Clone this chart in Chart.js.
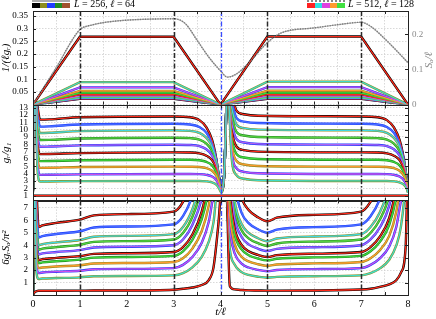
<!DOCTYPE html>
<html>
<head>
<meta charset="utf-8">
<script src="https://cdn.jsdelivr.net/npm/chart.js@4.4.1/dist/chart.umd.min.js"></script>
<style>
  body { margin: 0; background: #fff; }
  #wrap { position: relative; width: 436px; height: 319px; overflow: hidden; font-family: 'Liberation Serif', 'DejaVu Serif', serif; }
  #wrap canvas { position: absolute; left: 0; }
  .bar { position: absolute; top: 3px; height: 5px; display: flex; }
  .bar span { flex: 1; }
  .gline { position: absolute; top: 0; height: 2px; }
  .ltext { position: absolute; top: -2px; font-size: 10px; line-height: 12px; white-space: nowrap; }
</style>
</head>
<body>
<div id="wrap">
  <canvas id="cTop" width="436" height="112" style="top:0"></canvas>
  <canvas id="cMid" width="436" height="107" style="top:99px"></canvas>
  <canvas id="cBot" width="436" height="125" style="top:194px"></canvas>

  <div class="gline" style="left:32px;width:38px;background:#aaa"></div>
  <div class="bar" style="left:32px;width:38px">
    <span style="background:#000"></span><span style="background:#8c8c1e"></span><span style="background:#1f3cff"></span><span style="background:#1e8c1e"></span><span style="background:#a0522d"></span>
  </div>
  <div class="ltext" style="left:74px"><i>L</i> = 256, <i>ℓ</i> = 64</div>

  <div class="gline" style="left:307px;width:38px;border-top:2px dotted #888;height:0"></div>
  <div class="bar" style="left:307px;width:38px">
    <span style="background:#ff2020"></span><span style="background:#30e0e0"></span><span style="background:#e040e0"></span><span style="background:#ff9a30"></span><span style="background:#40e040"></span>
  </div>
  <div class="ltext" style="left:348px"><i>L</i> = 512, <i>ℓ</i> = 128</div>
</div>
<script>
// ---- axes / ticks ----
const xGrid = [0, 0.5, 1, 1.5, 2, 2.5, 3, 3.5, 4, 4.5, 5, 5.5, 6, 6.5, 7, 7.5, 8];
const topTicks = [0, 0.05, 0.1, 0.15, 0.2, 0.25, 0.3, 0.35];
const sATicks = [0, 0.1, 0.2];
const midTicks = [1, 2, 3, 4, 5, 6, 7, 8, 9, 10, 11, 12, 13];
const botTicks = [0, 1, 2, 3, 4, 5, 6, 7];
const markTimes = [1, 3, 5, 7];
const centerTime = 4;

// ---- top panel: 1/(l g_r) ----
const tTop = [0, 1, 3, 4, 5, 7, 8];
const invG1 = [0, 0.268, 0.268, 0, 0.269, 0.269, 0];
const invG2 = [0, 0.089, 0.089, 0, 0.091, 0.091, 0];
const invG3 = [0, 0.068, 0.068, 0, 0.069, 0.069, 0];
const invG4 = [0, 0.054, 0.054, 0, 0.055, 0.055, 0];
const invG5 = [0, 0.046, 0.046, 0, 0.046, 0.046, 0];
const invG6 = [0, 0.039, 0.039, 0, 0.039, 0.039, 0];
const invG7 = [0, 0.034, 0.034, 0, 0.034, 0.034, 0];
const invG8 = [0, 0.030, 0.030, 0, 0.030, 0.030, 0];
const invG9 = [0, 0.027, 0.027, 0, 0.027, 0.027, 0];
const invG10 = [0, 0.025, 0.025, 0, 0.025, 0.025, 0];
const invG11 = [0, 0.023, 0.023, 0, 0.023, 0.023, 0];

// entanglement entropy S_A / l (right axis)
const tS = [0, 0.5, 1, 1.25, 1.5, 2, 2.5, 3, 3.25, 3.5, 3.75, 4, 4.15, 4.33, 4.57, 5, 5.3, 6, 6.5, 7, 7.25, 7.45, 7.73, 8];
const sA = [0, 0.106, 0.213, 0.226, 0.233, 0.24, 0.243, 0.244, 0.23, 0.183, 0.135, 0.096, 0.078, 0.086, 0.114, 0.176, 0.204, 0.218, 0.227, 0.234, 0.218, 0.194, 0.157, 0.119];

// ---- middle panel: g_r / g_1 ----
const tFlat = [0, 8];
const ratio1 = [1, 1];
const tMid = [0, 0.04, 0.1, 0.15, 0.35, 1, 3, 3.35, 3.55, 3.7, 3.82, 3.91, 3.97, 4.02, 4.08, 4.15, 4.24, 4.34, 4.5, 4.8, 7, 7.35, 7.55, 7.7, 7.82, 7.91, 7.97, 8];
const ratio2 = [1.4, 16, 4.2, 2.92, 2.93, 2.98, 3.0, 3.0, 3.0, 2.95, 2.8, 2.5, 2.0, 1.4, 4, 16, 6.0, 3.8, 3.3, 3.1, 3.0, 3.0, 3.0, 2.95, 2.8, 2.5, 2.0, 1.4];
const ratio3 = [1.53, 16, 5.15, 3.83, 3.84, 3.9, 3.95, 3.95, 3.93, 3.83, 3.6, 3.12, 2.39, 1.53, 4, 16, 6.95, 4.75, 4.25, 4.05, 3.95, 3.95, 3.93, 3.83, 3.6, 3.12, 2.39, 1.53];
const ratio4 = [1.67, 16, 6.15, 4.79, 4.8, 4.9, 4.95, 4.94, 4.91, 4.75, 4.4, 3.73, 2.74, 1.67, 4, 16, 7.95, 5.75, 5.25, 5.05, 4.95, 4.94, 4.91, 4.75, 4.4, 3.73, 2.74, 1.67];
const ratio5 = [1.74, 16, 7.1, 5.7, 5.72, 5.82, 5.9, 5.89, 5.82, 5.59, 5.12, 4.23, 3.01, 1.74, 4, 16, 8.9, 6.7, 6.2, 6.0, 5.9, 5.89, 5.82, 5.59, 5.12, 4.23, 3.01, 1.74];
const ratio6 = [1.83, 16, 8.1, 6.66, 6.68, 6.8, 6.9, 6.88, 6.77, 6.45, 5.84, 4.72, 3.24, 1.83, 4, 16, 9.9, 7.7, 7.2, 7.0, 6.9, 6.88, 6.77, 6.45, 5.84, 4.72, 3.24, 1.83];
const ratio7 = [1.83, 16, 9.15, 7.67, 7.7, 7.85, 7.95, 7.91, 7.76, 7.32, 6.49, 5.1, 3.36, 1.83, 4, 16, 10.95, 8.75, 8.25, 8.05, 7.95, 7.91, 7.76, 7.32, 6.49, 5.1, 3.36, 1.83];
const ratio8 = [1.87, 16, 10.1, 8.58, 8.6, 8.8, 8.9, 8.84, 8.64, 8.11, 7.08, 5.42, 3.45, 1.87, 4, 16, 11.9, 9.7, 9.2, 9.0, 8.9, 8.84, 8.64, 8.11, 7.08, 5.42, 3.45, 1.87];
const ratio9 = [1.8, 16, 11.1, 9.54, 9.57, 9.8, 9.9, 9.83, 9.55, 8.88, 7.68, 5.72, 3.49, 1.8, 4, 16, 12.9, 10.7, 10.2, 10.0, 9.9, 9.83, 9.55, 8.88, 7.68, 5.72, 3.49, 1.8];
const ratio10 = [1.78, 16, 12.0, 10.41, 10.45, 10.7, 10.8, 10.71, 10.37, 9.56, 8.15, 5.9, 3.45, 1.78, 4, 16, 13.8, 11.6, 11.1, 10.9, 10.8, 10.71, 10.37, 9.56, 8.15, 5.9, 3.45, 1.78];
const ratio11 = [1.65, 16, 13.0, 11.37, 11.4, 11.7, 11.8, 11.7, 11.3, 10.3, 8.6, 6.0, 3.38, 1.65, 4, 16, 14.8, 12.6, 12.1, 11.9, 11.8, 11.7, 11.3, 10.3, 8.6, 6.0, 3.38, 1.65];

// ---- bottom panel: 6 g_r S_A / pi^2 ----
const tBot = [0, 0.03, 0.07, 0.12, 0.2, 0.5, 1, 1.3, 2, 3, 3.2, 3.4, 3.6, 3.75, 3.85, 3.95, 4.1, 4.2, 4.3, 4.45, 4.6, 4.8, 5, 5.2, 6, 7, 7.2, 7.4, 7.6, 7.75, 7.85, 7.95, 8];
const prod1 = [0, 0.2, 0.3, 0.34, 0.34, 0.34, 0.35, 0.36, 0.36, 0.42, 0.5, 0.6, 0.8, 1.2, 2.2, 5.5, 12, 0.7, 0.45, 0.4, 0.37, 0.36, 0.35, 0.35, 0.36, 0.44, 0.5, 0.65, 0.85, 1.18, 1.8, 3.9, 12];
const prod2 = [0.1, 9, 1.99, 1.29, 1.32, 1.36, 1.42, 1.51, 1.53, 1.58, 1.76, 2.22, 3.06, 4.28, 5.81, 9, 9, 3.67, 2.45, 1.84, 1.61, 1.47, 1.39, 1.46, 1.51, 1.58, 1.76, 2.14, 2.83, 3.98, 5.51, 9, 12];
const prod3 = [0.1, 9, 2.73, 1.76, 1.81, 1.87, 1.95, 2.07, 2.1, 2.16, 2.42, 3.05, 4.2, 5.88, 7.98, 9, 9, 5.04, 3.36, 2.52, 2.21, 2.02, 1.91, 2.01, 2.08, 2.16, 2.42, 2.94, 3.89, 5.46, 7.56, 9, 12];
const prod4 = [0.1, 9, 3.34, 2.16, 2.21, 2.29, 2.39, 2.53, 2.57, 2.65, 2.96, 3.73, 5.14, 7.2, 9.77, 12, 12, 6.17, 4.11, 3.08, 2.7, 2.47, 2.34, 2.45, 2.54, 2.65, 2.96, 3.6, 4.75, 6.68, 9.25, 12, 12];
const prod5 = [0.1, 9, 3.97, 2.56, 2.62, 2.71, 2.84, 3.0, 3.05, 3.14, 3.51, 4.42, 6.1, 8.54, 11.6, 12, 12, 7.32, 4.88, 3.66, 3.2, 2.93, 2.78, 2.91, 3.02, 3.14, 3.51, 4.27, 5.64, 7.93, 11, 12, 12];
const prod6 = [0.1, 9, 4.36, 2.81, 2.88, 2.98, 3.12, 3.3, 3.35, 3.45, 3.85, 4.86, 6.7, 9.38, 12, 12, 12, 8.04, 5.36, 4.02, 3.52, 3.22, 3.05, 3.2, 3.32, 3.45, 3.85, 4.69, 6.2, 8.71, 12, 12, 12];
const prod7 = [0.1, 9, 5.04, 3.26, 3.34, 3.45, 3.61, 3.82, 3.88, 4.0, 4.46, 5.63, 7.76, 10.9, 12, 12, 12, 9.31, 6.21, 4.66, 4.07, 3.72, 3.53, 3.71, 3.84, 4.0, 4.46, 5.43, 7.18, 10.1, 12, 12, 12];
const prod8 = [0.1, 9, 5.63, 3.64, 3.72, 3.85, 4.03, 4.27, 4.33, 4.46, 4.98, 6.28, 8.66, 12, 12, 12, 12, 10.4, 6.93, 5.2, 4.55, 4.16, 3.94, 4.14, 4.29, 4.46, 4.98, 6.06, 8.01, 11.3, 12, 12, 12];
const prod9 = [0.1, 9, 6.18, 3.99, 4.09, 4.23, 4.42, 4.68, 4.75, 4.89, 5.46, 6.89, 9.5, 12, 12, 12, 12, 11.4, 7.6, 5.7, 4.99, 4.56, 4.32, 4.54, 4.7, 4.89, 5.46, 6.65, 8.79, 12, 12, 12, 12];
const prod10 = [0.1, 9, 7.15, 4.62, 4.73, 4.9, 5.12, 5.42, 5.5, 5.67, 6.33, 7.98, 11, 12, 12, 12, 12, 12, 8.8, 6.6, 5.78, 5.28, 5.01, 5.25, 5.45, 5.67, 6.33, 7.7, 10.2, 12, 12, 12, 12];
const prod11 = [0.1, 9, 8.45, 5.46, 5.59, 5.79, 6.05, 6.4, 6.5, 6.7, 7.48, 9.43, 12, 12, 12, 12, 12, 12, 10.4, 7.8, 6.83, 6.24, 5.92, 6.21, 6.44, 6.7, 7.48, 9.1, 12, 12, 12, 12, 12];

// ---- line colours: L=256 (drawn under, wider) and L=512 (on top) ----
const col256 = ['#000000', '#8c8c1e', '#1f3cff', '#8c8c1e', '#1e8c1e', '#000000', '#1f3cff', '#1e8c1e', '#8c8c1e', '#1f3cff', '#000000'];
const col512 = ['#ff2a1a', '#3fdcc8', '#d050e8', '#ff9a30', '#40d840', '#ff2a1a', '#b060f0', '#58d040', '#3fd8e0', '#4a70ff', '#ff2a1a'];

const serif = "'Liberation Serif', 'DejaVu Serif', serif";
const pts = (ts, ys) => ts.map((t, i) => ({ x: t, y: ys[i] }));

function pair(ts, ys, k, smooth) {
  const common = { pointRadius: 0, fill: false, tension: 0,
    cubicInterpolationMode: smooth ? 'monotone' : 'default' };
  return [
    Object.assign({ data: pts(ts, ys), borderColor: col256[k], borderWidth: 2.4, order: 2 }, common),
    Object.assign({ data: pts(ts, ys), borderColor: col512[k], borderWidth: 1.3, order: 1 }, common)
  ];
}

const marks = {
  id: 'marks',
  afterDatasetsDraw(chart) {
    const { ctx, chartArea: a, scales } = chart;
    const x = scales.x, y = scales.y;
    ctx.save();
    ctx.beginPath();
    ctx.rect(a.left, a.top, a.width, a.height);
    ctx.clip();
    ctx.lineWidth = 1.5;
    ctx.setLineDash([5, 2, 1.5, 2]);
    ctx.strokeStyle = '#2a2a2a';
    markTimes.forEach(t => {
      const px = Math.round(x.getPixelForValue(t)) + 0.5;
      ctx.beginPath(); ctx.moveTo(px, a.top); ctx.lineTo(px, a.bottom); ctx.stroke();
    });
    ctx.strokeStyle = '#3a4cff';
    ctx.lineWidth = 1.3;
    const pb = Math.round(x.getPixelForValue(centerTime)) + 0.5;
    ctx.beginPath(); ctx.moveTo(pb, a.top); ctx.lineTo(pb, a.bottom); ctx.stroke();
    ctx.restore();

    ctx.save();
    ctx.strokeStyle = '#222';
    ctx.lineWidth = 1;
    ctx.beginPath();
    xGrid.forEach(t => {
      const px = Math.round(x.getPixelForValue(t)) + 0.5;
      ctx.moveTo(px, a.bottom); ctx.lineTo(px, a.bottom - 3);
      ctx.moveTo(px, a.top); ctx.lineTo(px, a.top + 3);
    });
    y.ticks.forEach(tk => {
      const py = Math.round(y.getPixelForValue(tk.value)) + 0.5;
      ctx.moveTo(a.left, py); ctx.lineTo(a.left + 3, py);
      if (!scales.y2) { ctx.moveTo(a.right, py); ctx.lineTo(a.right - 3, py); }
    });
    if (scales.y2) {
      scales.y2.ticks.forEach(tk => {
        const py = Math.round(scales.y2.getPixelForValue(tk.value)) + 0.5;
        ctx.moveTo(a.right, py); ctx.lineTo(a.right - 3, py);
      });
    }
    ctx.stroke();
    const L = Math.round(a.left), T = Math.round(a.top);
    ctx.strokeRect(L + 0.5, T + 0.5, Math.round(a.right) - L, Math.round(a.bottom) - T);
    ctx.restore();
  }
};

const rightTitle = {
  id: 'rightTitle',
  afterDraw(chart) {
    const { ctx, chartArea: a } = chart;
    ctx.save();
    ctx.translate(429, a.top + 49);
    ctx.rotate(-Math.PI / 2);
    ctx.fillStyle = '#888';
    ctx.font = 'italic 11px ' + serif;
    ctx.textAlign = 'center';
    ctx.textBaseline = 'middle';
    ctx.fillText('Sₐ/ℓ', 0, 0);
    ctx.restore();
  }
};

function xScale(showLabels) {
  return {
    type: 'linear', min: 0, max: 8,
    afterBuildTicks: s => { s.ticks = xGrid.map(v => ({ value: v })); },
    afterFit: s => { s.height = showLabels ? 24 : 0; },
    grid: { color: '#cfcfcf', lineWidth: 0.8, drawTicks: false },
    border: { display: false, dash: [1.5, 1.5] },
    ticks: {
      display: showLabels, autoSkip: false, maxRotation: 0, padding: 3,
      color: '#000', font: { family: serif, size: 10 },
      callback: v => Number.isInteger(v) ? String(v) : ''
    },
    title: { display: showLabels, text: 't/ℓ', color: '#000', padding: 0,
      font: { family: serif, size: 11, style: 'italic' } }
  };
}

function yScale(min, max, ticks, title, hideZero) {
  return {
    position: 'left', min: min, max: max,
    afterBuildTicks: s => { s.ticks = ticks.map(v => ({ value: v })); },
    afterFit: s => { s.width = 33; },
    grid: { color: '#cfcfcf', lineWidth: 0.8, drawTicks: false },
    border: { display: false, dash: [1.5, 1.5] },
    ticks: { color: '#000', padding: 5, autoSkip: false, font: { family: serif, size: 9 },
      callback: v => (hideZero && v === 0) ? '' : String(v) },
    title: { display: true, text: title, color: '#000', padding: 0,
      font: { family: serif, size: 11, style: 'italic' } }
  };
}

const baseOpts = pad => ({
  responsive: false, maintainAspectRatio: false, animation: false,
  layout: { padding: pad },
  plugins: { legend: { display: false }, tooltip: { enabled: false } },
  elements: { point: { radius: 0 } }
});

// make each plot area land on the same pixel rows as the reference panels
function place(chart, top, bottom) {
  for (let i = 0; i < 4; i++) {
    const a = chart.chartArea;
    const dh = Math.round((bottom - top) - (a.bottom - a.top));
    if (dh === 0) break;
    chart.resize(436, chart.height + dh);
  }
  chart.canvas.style.top = Math.round(top - chart.chartArea.top) + 'px';
}

// top chart
const invAll = [invG1, invG2, invG3, invG4, invG5, invG6, invG7, invG8, invG9, invG10, invG11];
const topSets = [];
invAll.forEach((ys, k) => topSets.push(...pair(tTop, ys, k, false)));
topSets.push({ data: pts(tS, sA), yAxisID: 'y2', borderColor: '#b0b0b0', borderWidth: 1.2,
  pointRadius: 0, cubicInterpolationMode: 'monotone', order: 4 });
topSets.push({ data: pts(tS, sA), yAxisID: 'y2', borderColor: '#7a7a7a', borderWidth: 1.4,
  borderDash: [1.2, 1.3], pointRadius: 0, cubicInterpolationMode: 'monotone', order: 0 });

const topChart = new Chart(document.getElementById('cTop'), {
  type: 'line',
  data: { datasets: topSets },
  options: Object.assign(baseOpts({ top: 11, bottom: 7, left: 0, right: 0 }), {
    scales: {
      x: xScale(false),
      y: yScale(0, 0.37, topTicks, '1/(ℓgᵣ)', true),
      y2: {
        position: 'right', min: 0, max: 0.266,
        afterBuildTicks: s => { s.ticks = sATicks.map(v => ({ value: v })); },
        afterFit: s => { s.width = 28; },
        grid: { display: false, drawTicks: false },
        border: { display: false },
        ticks: { color: '#888', padding: 4, autoSkip: false, font: { family: serif, size: 9 } }
      }
    }
  }),
  plugins: [marks, rightTitle]
});
place(topChart, 11, 105);

// middle chart
const ratioAll = [ratio2, ratio3, ratio4, ratio5, ratio6, ratio7, ratio8, ratio9, ratio10, ratio11];
const midSets = [];
midSets.push(...pair(tFlat, ratio1, 0, false));
ratioAll.forEach((ys, i) => midSets.push(...pair(tMid, ys, i + 1, true)));

const midChart = new Chart(document.getElementById('cMid'), {
  type: 'line',
  data: { datasets: midSets },
  options: Object.assign(baseOpts({ top: 7, bottom: 7, left: 0, right: 28 }), {
    scales: { x: xScale(false), y: yScale(0.32, 13.31, midTicks, 'gᵣ/g₁', false) }
  }),
  plugins: [marks]
});
place(midChart, 105, 200);

// bottom chart
const prodAll = [prod1, prod2, prod3, prod4, prod5, prod6, prod7, prod8, prod9, prod10, prod11];
const botSets = [];
prodAll.forEach((ys, k) => botSets.push(...pair(tBot, ys, k, true)));

const botChart = new Chart(document.getElementById('cBot'), {
  type: 'line',
  data: { datasets: botSets },
  options: Object.assign(baseOpts({ top: 7, bottom: 0, left: 0, right: 28 }), {
    scales: { x: xScale(true), y: yScale(0, 7.6, botTicks, '6gᵣSₐ/π²', true) }
  }),
  plugins: [marks]
});
place(botChart, 200, 295);
</script>
</body>
</html>
